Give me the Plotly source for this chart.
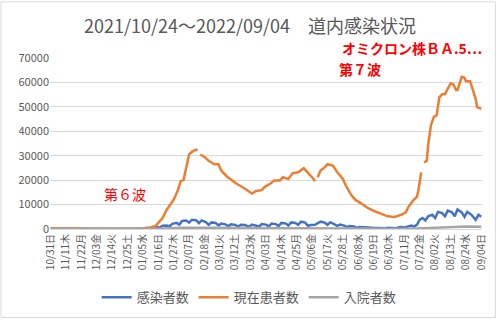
import plotly.graph_objects as go

# ---------------- data ----------------
tick_dates = ["2021-10-31", "2021-11-11", "2021-11-22", "2021-12-03", "2021-12-14", "2021-12-25",
              "2022-01-05", "2022-01-16", "2022-01-27", "2022-02-07", "2022-02-18", "2022-03-01",
              "2022-03-12", "2022-03-23", "2022-04-03", "2022-04-14", "2022-04-25", "2022-05-06",
              "2022-05-17", "2022-05-28", "2022-06-08", "2022-06-19", "2022-06-30", "2022-07-11",
              "2022-07-22", "2022-08-02", "2022-08-13", "2022-08-24", "2022-09-04"]
tick_labels = ["10/31日", "11/11木", "11/22月", "12/03金", "12/14火", "12/25土", "01/05水", "01/16日",
               "01/27木", "02/07月", "02/18金", "03/01火", "03/12土", "03/23水", "04/03日", "04/14木",
               "04/25月", "05/06金", "05/17火", "05/28土", "06/08水", "06/19日", "06/30木", "07/11月",
               "07/22金", "08/02火", "08/13土", "08/24水", "09/04日"]

# 現在患者数 (orange)
patients_dates = ["2021-10-31", "2021-11-15", "2021-12-01", "2021-12-20", "2022-01-05", "2022-01-10",
                  "2022-01-14", "2022-01-19", "2022-01-22", "2022-01-25", "2022-01-27", "2022-01-30",
                  "2022-02-01", "2022-02-03", "2022-02-05", "2022-02-07", "2022-02-09", "2022-02-12",
                  "2022-02-13", "2022-02-14", "2022-02-15", "2022-02-18", "2022-02-21", "2022-02-25",
                  "2022-02-28", "2022-03-02", "2022-03-06", "2022-03-10", "2022-03-13", "2022-03-17",
                  "2022-03-20", "2022-03-24", "2022-03-27", "2022-03-31", "2022-04-02", "2022-04-06",
                  "2022-04-09", "2022-04-13", "2022-04-15", "2022-04-19", "2022-04-22", "2022-04-26",
                  "2022-04-30", "2022-05-03", "2022-05-07", "2022-05-08", "2022-05-09", "2022-05-10",
                  "2022-05-12", "2022-05-15", "2022-05-17", "2022-05-21", "2022-05-24", "2022-05-28",
                  "2022-05-30", "2022-06-03", "2022-06-06", "2022-06-10", "2022-06-15", "2022-06-20",
                  "2022-06-24", "2022-06-29", "2022-07-04", "2022-07-06", "2022-07-09", "2022-07-12",
                  "2022-07-14", "2022-07-17", "2022-07-20", "2022-07-21", "2022-07-23", "2022-07-24",
                  "2022-07-25", "2022-07-27", "2022-07-28", "2022-07-30", "2022-08-01", "2022-08-03",
                  "2022-08-05", "2022-08-07", "2022-08-09", "2022-08-11", "2022-08-13", "2022-08-15",
                  "2022-08-17", "2022-08-18", "2022-08-20", "2022-08-21", "2022-08-23", "2022-08-24",
                  "2022-08-27", "2022-08-29", "2022-08-31", "2022-09-01", "2022-09-03", "2022-09-04"]
patients_vals = [300, 150, 100, 100, 300, 600,
                 1200, 4500, 7900, 10500, 12000, 15900,
                 19600, 20000, 25200, 30500, 31600, 32500,
                 32100, None, 30500, 29500, 27900, 26500,
                 26500, 23900, 21500, 19600, 18500, 17200,
                 15900, 14500, 15600, 15900, 17200, 18500,
                 19900, 19900, 21200, 20500, 22800, 23200,
                 24900, 23200, 20500, 19500, None, 21200,
                 23900, 25200, 26500, 25900, 23200, 20500,
                 17900, 13900, 11900, 10500, 8500, 7200,
                 6300, 5200, 4900, 5200, 5900, 6800,
                 9200, 11500, 13200, 15900, 23200, None,
                 27200, 27900, 34500, 42500, 45900, 46500,
                 53900, 55200, 55200, 57200, 59600, 59200,
                 56900, 56900, 61200, 62300, 61900, 60500,
                 60500, 57200, 53200, 49900, 49200, 49200]

# 感染者数 (blue)
infected_dates = ["2021-10-31", "2021-11-07", "2021-11-14", "2021-11-21", "2021-11-28", "2021-12-05",
                  "2021-12-12", "2021-12-19", "2021-12-26", "2022-01-02", "2022-01-06", "2022-01-09",
                  "2022-01-12", "2022-01-15", "2022-01-17", "2022-01-19", "2022-01-22", "2022-01-24",
                  "2022-01-26", "2022-01-29", "2022-01-31", "2022-02-02", "2022-02-05", "2022-02-07",
                  "2022-02-09", "2022-02-12", "2022-02-14", "2022-02-16", "2022-02-19", "2022-02-21",
                  "2022-02-23", "2022-02-26", "2022-02-28", "2022-03-02", "2022-03-05", "2022-03-07",
                  "2022-03-09", "2022-03-12", "2022-03-14", "2022-03-16", "2022-03-19", "2022-03-22",
                  "2022-03-24", "2022-03-27", "2022-03-29", "2022-03-31", "2022-04-03", "2022-04-05",
                  "2022-04-07", "2022-04-10", "2022-04-12", "2022-04-14", "2022-04-17", "2022-04-19",
                  "2022-04-21", "2022-04-24", "2022-04-26", "2022-04-28", "2022-05-01", "2022-05-03",
                  "2022-05-05", "2022-05-08", "2022-05-10", "2022-05-12", "2022-05-15", "2022-05-17",
                  "2022-05-19", "2022-05-22", "2022-05-24", "2022-05-26", "2022-05-29", "2022-05-31",
                  "2022-06-02", "2022-06-05", "2022-06-07", "2022-06-09", "2022-06-12", "2022-06-15",
                  "2022-06-17", "2022-06-20", "2022-06-23", "2022-06-27", "2022-06-30", "2022-07-03",
                  "2022-07-05", "2022-07-08", "2022-07-11", "2022-07-13", "2022-07-16", "2022-07-18",
                  "2022-07-20", "2022-07-22", "2022-07-24", "2022-07-26", "2022-07-28", "2022-07-31",
                  "2022-08-02", "2022-08-04", "2022-08-07", "2022-08-09", "2022-08-11", "2022-08-14",
                  "2022-08-16", "2022-08-18", "2022-08-21", "2022-08-23", "2022-08-25", "2022-08-28",
                  "2022-08-30", "2022-08-31", "2022-09-02", "2022-09-04"]
infected_vals = [50, 40, 30, 20, 20, 20,
                 20, 20, 20, 30, 60, 150,
                 300, 700, 600, 1300, 1400, 1100,
                 2100, 2500, 1800, 3300, 3500, 2600,
                 3800, 3600, 2400, 3500, 2800, 1700,
                 2700, 2500, 1500, 2200, 1900, 1200,
                 1900, 1700, 1000, 1700, 1600, 900,
                 1800, 1500, 1000, 2000, 1800, 1100,
                 2200, 2000, 1200, 2500, 2300, 1400,
                 2700, 2500, 1700, 3000, 2600, 1300,
                 1600, 1700, 2500, 3000, 2600, 1700,
                 2800, 2000, 1300, 1800, 1400, 800,
                 1200, 1000, 500, 800, 700, 400,
                 600, 400, 450, 300, 500, 450,
                 350, 800, 600, 900, 1400, 1000,
                 1800, 3800, 4500, 3500, 5200, 5800,
                 4500, 7000, 6500, 5200, 7500, 6800,
                 5200, 8000, 6800, 5000, 7000, 5800,
                 4500, 3800, 5800, 5000]

# 入院者数 (gray)
hospital_dates = ["2021-10-31", "2021-12-01", "2022-01-10", "2022-01-20", "2022-02-01", "2022-02-18",
                  "2022-03-01", "2022-03-20", "2022-04-15", "2022-05-15", "2022-06-10", "2022-07-05",
                  "2022-07-20", "2022-08-01", "2022-08-13", "2022-08-24", "2022-09-04"]
hospital_vals = [40, 30, 30, 200, 500, 700,
                 550, 400, 300, 300, 150, 100,
                 250, 500, 900, 1000, 900]

# ---------------- figure ----------------
FONT = "Noto Sans CJK JP"
fig = go.Figure()
fig.add_trace(go.Scatter(x=infected_dates, y=infected_vals, mode="lines", name="感染者数",
                         line=dict(color="#4472C4", width=2.5)))
fig.add_trace(go.Scatter(x=patients_dates, y=patients_vals, mode="lines", name="現在患者数",
                         line=dict(color="#ED7D31", width=2.5), connectgaps=False))
fig.add_trace(go.Scatter(x=hospital_dates, y=hospital_vals, mode="lines", name="入院者数",
                         line=dict(color="#A5A5A5", width=2.5)))

L, R, T, B = 50, 14, 58, 91
W, H = 500, 324
pw, ph = W - L - R, H - T - B

def px(x):
    return (x - L) / pw

def py(y):
    return (H - B - y) / ph

fig.update_layout(
    width=W, height=H,
    margin=dict(l=L, r=R, t=T, b=B),
    paper_bgcolor="white", plot_bgcolor="white",
    font=dict(family=FONT, color="#595959"),
    title=dict(text="2021/10/24～2022/09/04　道内感染状況", x=250 / W, xanchor="center",
               y=1 - 27 / H, yanchor="middle", font=dict(size=18, color="#595959", family=FONT)),
    showlegend=True,
    legend=dict(orientation="h", x=px(251), xanchor="center", y=py(303), yanchor="middle",
                font=dict(size=13, color="#595959", family=FONT), itemwidth=30,
                bgcolor="rgba(0,0,0,0)"),
    xaxis=dict(type="date", range=["2021-10-30 12:00", "2022-09-04 12:00"],
               tickmode="array", tickvals=tick_dates, ticktext=tick_labels,
               tickangle=-90, tickfont=dict(size=10, color="#595959", family=FONT),
               showgrid=False, zeroline=False, showline=True, linecolor="#D9D9D9",
               ticks="", fixedrange=True),
    yaxis=dict(range=[0, 70000], tickmode="array", tickvals=list(range(0, 70001, 10000)),
               ticktext=[str(v) for v in range(0, 70001, 10000)],
               tickfont=dict(size=11, color="#595959", family=FONT),
               showgrid=True, gridcolor="#D9D9D9", gridwidth=1, zeroline=False,
               showline=False, ticks="", ticklen=0),
)

# annotations
fig.add_annotation(text="<b>オミクロン株ＢＡ.5…</b>", xref="paper", yref="paper",
                   x=px(488), y=py(48), xanchor="right", yanchor="middle", showarrow=False,
                   font=dict(size=14, color="#FF0000", family=FONT))
fig.add_annotation(text="<b>第７波</b>", xref="paper", yref="paper",
                   x=px(340), y=py(69), xanchor="left", yanchor="middle", showarrow=False,
                   font=dict(size=14, color="#FF0000", family=FONT))
fig.add_annotation(text="第６波", xref="paper", yref="paper",
                   x=px(102), y=py(197), xanchor="left", yanchor="middle", showarrow=False,
                   font=dict(size=14, color="#FF0000", family=FONT))

# outer chart border
fig.add_shape(type="rect", xref="paper", yref="paper",
              x0=px(0.5), x1=px(W - 0.5), y0=py(H - 0.5), y1=py(0.5),
              line=dict(color="#D9D9D9", width=1), fillcolor="rgba(0,0,0,0)", layer="below")

fig.write_html("out.html")
